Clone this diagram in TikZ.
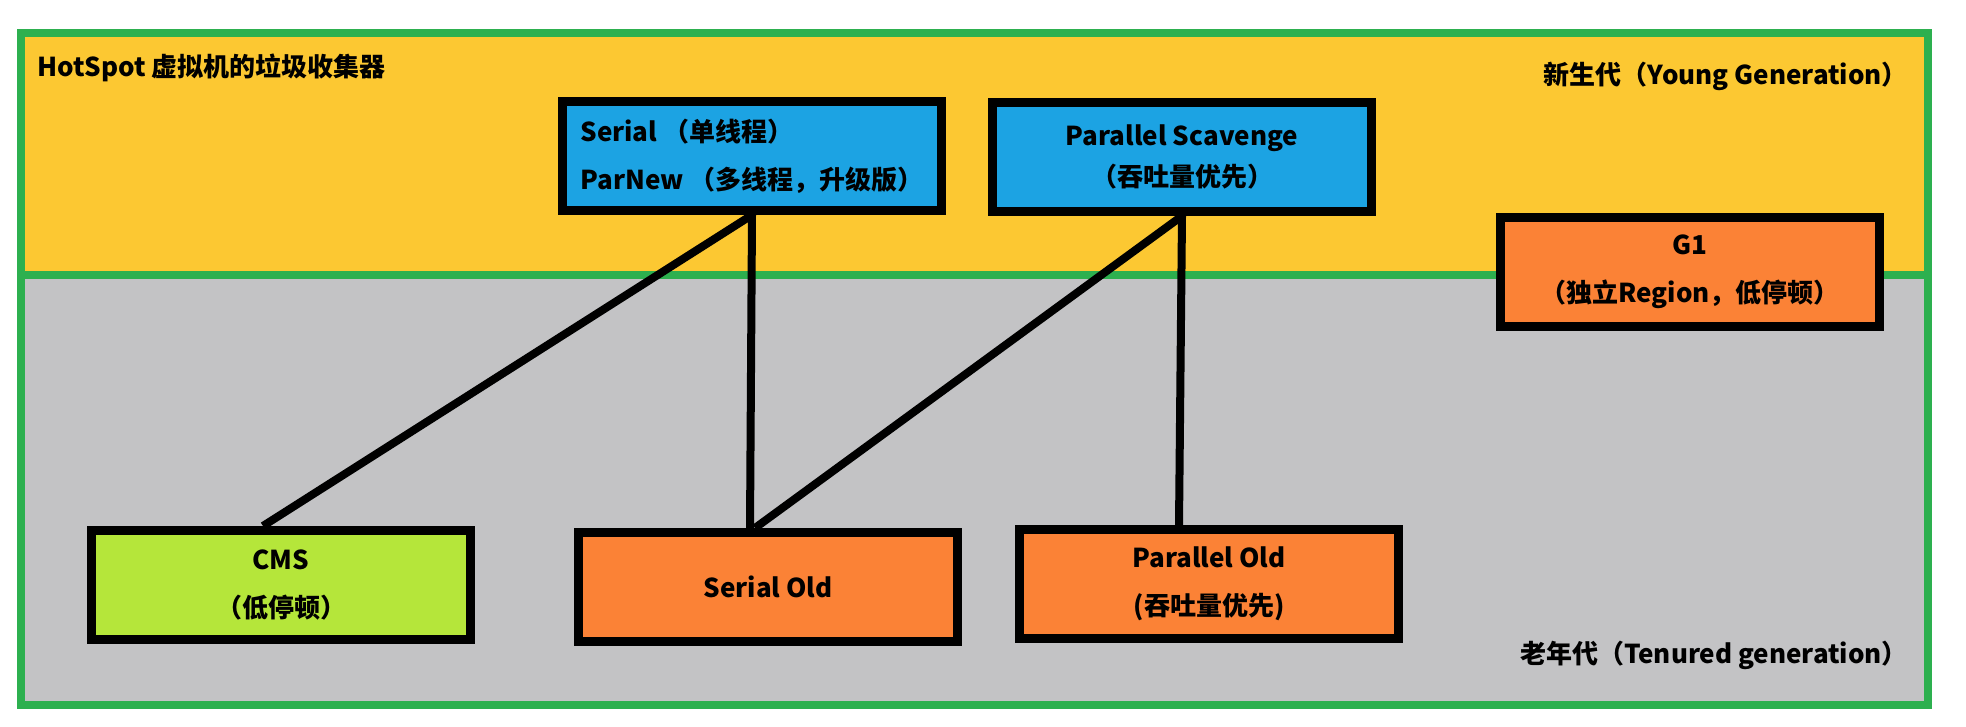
\documentclass[tikz,border=0pt]{standalone}
\usepackage{fontspec}
\setmainfont{Noto Sans CJK SC}
\usetikzlibrary{calc}
\definecolor{youngc}{RGB}{252,200,50}
\definecolor{oldc}{RGB}{195,195,197}
\definecolor{frame}{RGB}{45,176,79}
\definecolor{bluec}{RGB}{28,163,227}
\definecolor{orangec}{RGB}{251,130,54}
\definecolor{limec}{RGB}{181,230,58}
\tikzset{
  gcbox/.style={draw=black, line width=9pt, minimum width=379pt, minimum height=109pt,
    inner sep=0pt, align=center, font=\fontsize{26}{48}\selectfont\bfseries},
  conn/.style={draw=black, line width=8pt},
  framel/.style={draw=frame, line width=8pt},
  lbl/.style={inner sep=0pt, font=\fontsize{26}{30}\selectfont\bfseries}
}
\begin{document}
\begin{tikzpicture}[x=1pt,y=-1pt]
\useasboundingbox (0,0) rectangle (1966,726);
\fill[white] (0,0) rectangle (1966,726);
\fill[youngc] (21,33) rectangle (1928,275);
\fill[oldc] (21,275) rectangle (1928,705);
\draw[framel] (21,33) rectangle (1928,705);
\draw[framel] (21,275) -- (1928,275);

\node[lbl, anchor=west] (title) at (37,68) {HotSpot 虚拟机的垃圾收集器};
\node[lbl, anchor=east] (young) at (1908,76) {新生代（Young Generation）};
\node[lbl, anchor=east] (old) at (1908,655) {老年代（Tenured generation）};

\node[gcbox, fill=bluec, align=left] (ser) at (752,156) {Serial （单线程）\\ParNew （多线程，升级版）};
\node[gcbox, fill=bluec, font=\fontsize{26}{41}\selectfont\bfseries] (ps) at (1182,157) {Parallel Scavenge\\（吞吐量优先）};
\node[gcbox, fill=orangec] (g1) at (1690,272) {G1\\（独立Region，低停顿）};
\node[gcbox, fill=limec] (cms) at (281,585) {CMS\\（低停顿）};
\node[gcbox, fill=orangec] (so) at (768,587) {Serial Old};
\node[gcbox, fill=orangec] (po) at (1209,584) {Parallel Old\\(吞吐量优先)};

\draw[conn] (ser.south) -- ([xshift=-18pt]cms.north);
\draw[conn] (ser.south) -- ([xshift=-18pt]so.north);
\draw[conn] (ps.south) -- ([xshift=-13pt]so.north);
\draw[conn] (ps.south) -- ([xshift=-30pt]po.north);
\end{tikzpicture}
\end{document}
